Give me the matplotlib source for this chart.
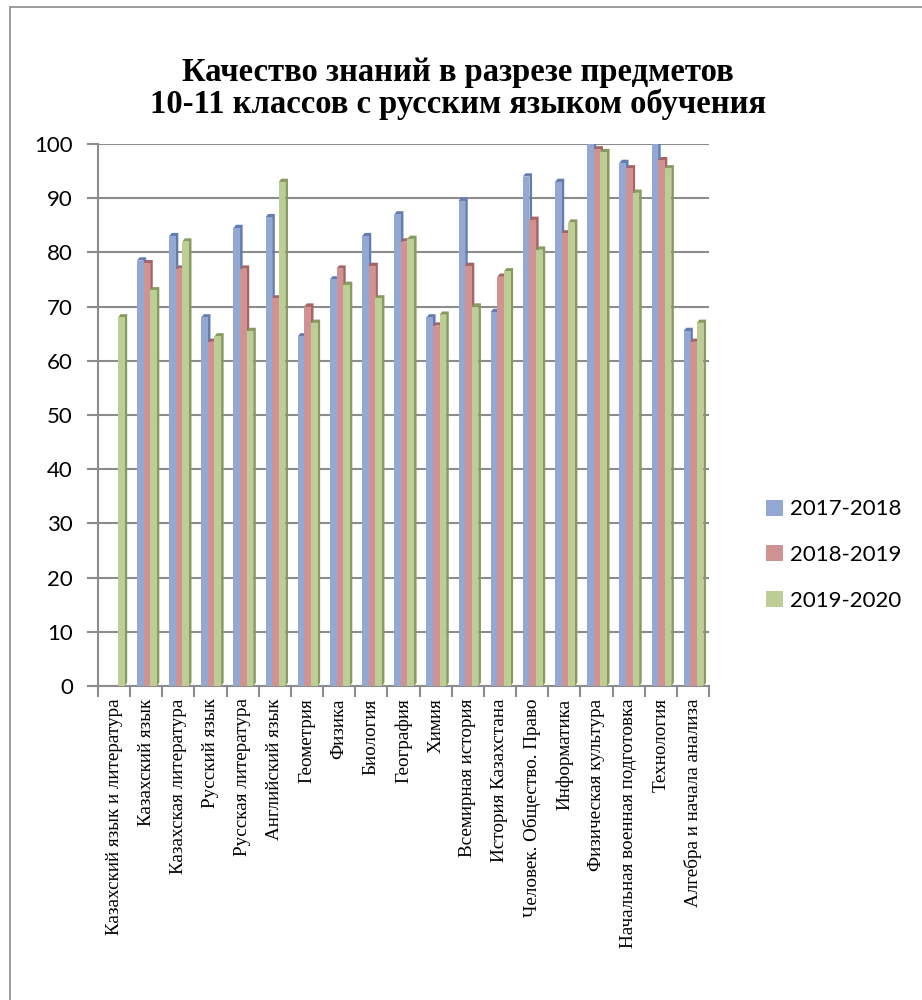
import matplotlib
matplotlib.use('Agg')
import matplotlib.pyplot as plt
from matplotlib.patches import Patch, Rectangle
import numpy as np

# Данные
predmety = ['Казахский язык и литература', 'Казахский язык', 'Казахская литература',
            'Русский язык', 'Русская литература', 'Английский язык', 'Геометрия',
            'Физика', 'Биология', 'География', 'Химия', 'Всемирная история',
            'История Казахстана', 'Человек. Общество. Право', 'Информатика',
            'Физическая культура', 'Начальная военная подготовка', 'Технология',
            'Алгебра и начала анализа']
god_2017 = [0, 78.5, 83, 68, 84.5, 86.5, 64.5, 75, 83, 87, 68, 89.5, 69, 94, 93, 100, 96.5, 100, 65.5]
god_2018 = [0, 78, 77, 63.5, 77, 71.5, 70, 77, 77.5, 82, 66.5, 77.5, 75.5, 86, 83.5, 99, 95.5, 97, 63.5]
god_2019 = [68, 73, 82, 64.5, 65.5, 93, 67, 74, 71.5, 82.5, 68.5, 70, 76.5, 80.5, 85.5, 98.5, 91, 95.5, 67]
serii = ['2017-2018', '2018-2019', '2019-2020']
zagolovok = ['Качество знаний в разрезе предметов',
             '10-11 классов с русским языком обучения']

cveta = ['#94A8D4', '#D09292', '#BCCE94']
teni = ['#647DAF', '#A86464', '#879B5F']

fig = plt.figure(figsize=(9.22, 10), dpi=100)
ax = fig.add_axes([98 / 922, 0.314, 611 / 922, 0.542])

x = np.arange(len(predmety))
w = 0.205
dx, dy = 0.08, 0.6

for k, valores in enumerate([god_2017, god_2018, god_2019]):
    centros = x + (k - 1) * w + 0.02
    for xc, v in zip(centros, valores):
        if v <= 0:
            continue
        x0, x1 = xc - w / 2, xc + w / 2
        # боковая грань и верх (псевдо-3D)
        ax.fill([x0, x0 + dx, x1 + dx, x1 + dx, x1, x1],
                [v, v + dy, v + dy, dy, 0, v], color=teni[k], lw=0, zorder=3)
    ax.bar(centros, valores, width=w, color=cveta[k], lw=0, zorder=3)

ax.set_xlim(-0.5, len(predmety) - 0.5)
ax.set_ylim(0, 100)
ax.set_yticks(np.arange(0, 101, 10))
ax.set_xticks(x)
ax.set_xticklabels(predmety, rotation=90, va='top', ha='center',
                   family='Liberation Serif', fontsize=13.8)
ax.set_xticks(np.arange(-0.5, len(predmety), 1), minor=True)
ax.tick_params(axis='x', which='major', length=0, pad=9)
ax.tick_params(axis='x', which='minor', length=8, width=1.5, color='#8C8C8C')
ax.tick_params(axis='y', length=8, width=1.5, color='#8C8C8C', pad=10)
for lab in ax.get_yticklabels():
    lab.set_family('Lato')
    lab.set_fontsize(16)

ax.grid(True, axis='y', color='#8C8C8C', linewidth=1.5, zorder=0)
ax.set_axisbelow(True)
for s in ['top', 'right']:
    ax.spines[s].set_visible(False)
for s in ['left', 'bottom']:
    ax.spines[s].set_color('#8C8C8C')
    ax.spines[s].set_linewidth(1.5)

for yy, linia in zip([0.927, 0.896], zagolovok):
    fig.text(0.497, yy, linia, ha='center', va='center', family='Liberation Serif',
             fontweight='bold', fontsize=23.5)

handles = [Patch(facecolor=c, edgecolor='none') for c in cveta]
fig.legend(handles, serii, loc='center left', bbox_to_anchor=(746 / 922, 1 - 555 / 1000),
           frameon=False, prop={'family': 'Lato', 'size': 16},
           handlelength=0.75, handleheight=0.75, handletextpad=0.35, labelspacing=1.15)

fig.patches.append(Rectangle((10 / 922, -0.05), 1.1, 1 - 7 / 1000 + 0.05,
                             transform=fig.transFigure, fill=False,
                             edgecolor='#8C8C8C', linewidth=1.2))

plt.savefig('out.png', dpi=100)
